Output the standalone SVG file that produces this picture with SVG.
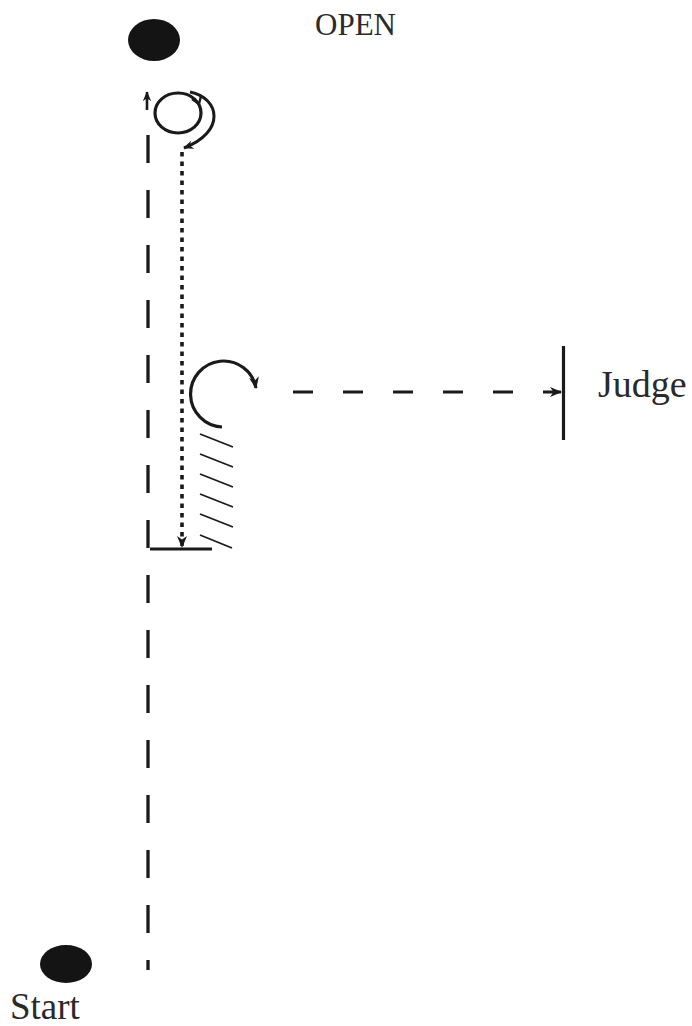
<svg xmlns="http://www.w3.org/2000/svg" width="692" height="1026" viewBox="0 0 692 1026">
<style>
.ink{stroke:#1a1a1a;fill:none;stroke-linecap:butt}
.dot{fill:#141414}
.lbl{font-family:"Liberation Serif","Times New Roman",serif;fill:#2a2a2a}
</style>
<defs>
<marker id="ah" viewBox="0 0 12 12" refX="11" refY="6" markerWidth="12" markerHeight="12" markerUnits="userSpaceOnUse" orient="auto">
<path d="M0,1 L12,6 L0,11 L3.5,6 z" fill="#1a1a1a"/>
</marker>
<marker id="ahs" viewBox="0 0 12 12" refX="11" refY="6" markerWidth="10" markerHeight="10" markerUnits="userSpaceOnUse" orient="auto">
<path d="M0,1 L12,6 L0,11 L3.5,6 z" fill="#1a1a1a"/>
</marker>
</defs>
<rect width="692" height="1026" fill="#ffffff"/>

<g id="open-marker">
<ellipse class="dot" cx="154" cy="40" rx="26" ry="21"/>
</g>
<g id="open-label">
<text class="lbl" x="315" y="35" font-size="31">OPEN</text>
</g>
<g id="start-marker">
<ellipse class="dot" cx="66" cy="964" rx="26" ry="19"/>
</g>
<g id="start-label">
<text class="lbl" x="10" y="1019" font-size="37">Start</text>
</g>
<g id="judge">
<line class="ink" x1="563.5" y1="346" x2="563.5" y2="440" stroke-width="3.2"/>
<text class="lbl" x="598" y="397" font-size="38">Judge</text>
</g>
<g id="halt-bar">
<line class="ink" x1="150" y1="549" x2="212" y2="549" stroke-width="3.2"/>
</g>
<g id="hatching" class="ink" stroke-width="1.8">
<line x1="200" y1="434" x2="233" y2="447"/>
<line x1="200" y1="454" x2="233" y2="467"/>
<line x1="200" y1="474" x2="233" y2="487"/>
<line x1="200" y1="494" x2="233" y2="507"/>
<line x1="200" y1="514" x2="233" y2="527"/>
<line x1="200" y1="535" x2="232" y2="548"/>
</g>
<g id="top-loop" class="ink" stroke-width="3.2">
<ellipse cx="178" cy="113" rx="23" ry="20"/>
<path d="M192 99 L199 104 L201 96" stroke-width="2.4"/>
</g>

<g id="connectors" class="ink">
<line x1="148" y1="135" x2="148" y2="970" stroke-width="3.3" stroke-dasharray="28 27"/>
<line x1="147" y1="110" x2="147" y2="92" stroke-width="2.6" marker-end="url(#ahs)"/>
<line x1="182" y1="152" x2="182" y2="547" stroke-width="3.6" stroke-dasharray="4.5 5" marker-end="url(#ah)"/>
<path d="M190 92 C220 98 226 132 184 148" stroke-width="3" marker-end="url(#ahs)"/>
<path d="M222 427 A33 33 0 1 1 256 388" stroke-width="3.2" marker-end="url(#ah)"/>
<line x1="293" y1="392" x2="561" y2="392" stroke-width="3.2" stroke-dasharray="20 30" marker-end="url(#ah)"/>
</g>
</svg>
